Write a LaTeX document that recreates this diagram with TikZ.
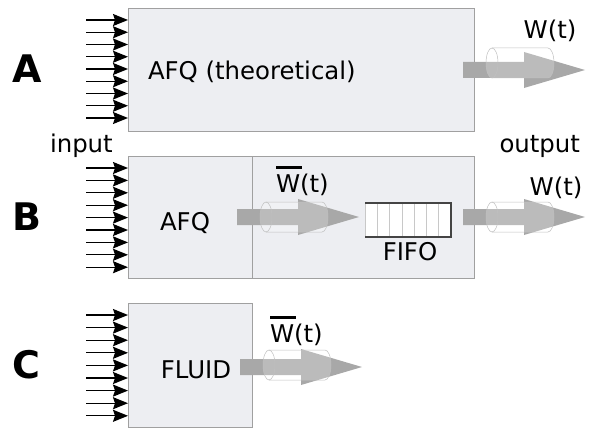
\documentclass[tikz,border=0pt]{standalone}
\usepackage{fontspec}
\setmainfont{DejaVu Sans}
\usetikzlibrary{arrows.meta}
\definecolor{boxfill}{HTML}{EDEEF2}
\definecolor{boxline}{HTML}{A0A0A0}
\definecolor{flow}{HTML}{A8A8A8}
\definecolor{cylline}{HTML}{C0C0C0}
\definecolor{fifoline}{HTML}{444444}
\definecolor{cellline}{HTML}{C8C8C8}
\newcommand\wbarlbl{\rlap{\rule[23pt]{26pt}{3.5pt}}W(t)}
\newcommand\flowarrow[3]{%
  \pgfmathsetmacro\cyy{#2+#3}%
  \fill[flow] (#1,#2-8) -- (#1+61,#2-8) -- (#1+61,#2-18) -- (#1+122,#2)
     -- (#1+61,#2+18) -- (#1+61,#2+8) -- (#1,#2+8) -- cycle;
  \fill[white,opacity=0.22] (#1+29,\cyy-15) -- (#1+85,\cyy-15)
     arc[start angle=90,end angle=-90,x radius=6pt,y radius=15pt]
     -- (#1+29,\cyy+15)
     arc[start angle=-90,end angle=-270,x radius=6pt,y radius=15pt] -- cycle;
  \draw[cylline,line width=0.5pt] (#1+29,\cyy) ellipse[x radius=6pt,y radius=15pt];
  \draw[cylline,line width=0.5pt] (#1+29,\cyy-15) -- (#1+85,\cyy-15)
     arc[start angle=90,end angle=-90,x radius=6pt,y radius=15pt] -- (#1+29,\cyy+15);
}
\tikzset{
  blk/.style={draw=boxline, fill=boxfill, line width=0.8pt, inner sep=0pt, outer sep=0pt, anchor=north west},
  inarrow/.style={-{Stealth[length=15pt,width=12pt,inset=2pt]}, line width=1.3pt},
  txt/.style={font=\fontsize{24.4}{29}\selectfont, inner sep=0pt, outer sep=0pt},
  lbl/.style={font=\fontsize{38}{44}\selectfont\bfseries, inner sep=0pt, outer sep=0pt, anchor=base},
}
\begin{document}
\begin{tikzpicture}[x=1pt,y=-1pt]
\useasboundingbox (0,0) rectangle (589,428);
% boxes
\node[blk, minimum width=346pt, minimum height=123pt] (boxA) at (128,8) {};
\node[blk, minimum width=346pt, minimum height=122pt] (boxB) at (128,156) {};
\node[blk, minimum width=124pt, minimum height=124pt] (boxC) at (128,303) {};
\coordinate (divtop) at (252,156);
\coordinate (divbot) at (252,278);
\draw[boxline, line width=0.8pt] (divtop) -- (divbot);
% inputs
\foreach \i in {0,...,8} {
  \coordinate (inA\i) at (86,20+12.25*\i);
  \draw[inarrow] (inA\i) -- (inA\i -| boxA.west);
  \coordinate (inB\i) at (86,168+12.4*\i);
  \draw[inarrow] (inB\i) -- (inB\i -| boxB.west);
  \coordinate (inC\i) at (86,315+12.6*\i);
  \draw[inarrow] (inC\i) -- (inC\i -| boxC.west);
}
% flow arrows
\flowarrow{463}{70}{-7}
\flowarrow{237}{217}{0}
\flowarrow{463}{217}{0}
\flowarrow{240}{367}{-2}
% FIFO
\node[fill=white, inner sep=0pt, outer sep=0pt, minimum width=86pt, minimum height=34pt, anchor=north west] (fifo) at (365,203) {};
\foreach \k in {1,...,6} {
  \draw[cellline, line width=0.6pt] ([xshift=12.29*\k pt]fifo.north west) -- ([xshift=12.29*\k pt]fifo.south west);
}
\draw[cellline, line width=0.8pt] (fifo.north west) -- (fifo.south west);
\draw[fifoline, line width=1.3pt] (fifo.north west) -- (fifo.north east) -- (fifo.south east) -- (fifo.south west);
% labels
\node[lbl] (labA) at (27,82) {A};
\node[lbl] (labB) at (27,230) {B};
\node[lbl] (labC) at (26,378) {C};
\node[txt, anchor=base west] (tA) at (148,80) {AFQ (theoretical)};
\node[txt, anchor=base] (wA) at (550,39) {W(t)};
\node[txt, anchor=base west] (tin) at (50,152) {input};
\node[txt, anchor=base east] (tout) at (580,152) {output};
\node[txt, anchor=base] (tB) at (185,230) {AFQ};
\node[txt, anchor=base west] (wB1) at (276,192) {\wbarlbl};
\node[txt, anchor=base] (tfifo) at (410,260) {FIFO};
\node[txt, anchor=base] (wB2) at (556,195) {W(t)};
\node[txt, anchor=base] (tC) at (196,378) {FLUID};
\node[txt, anchor=base west] (wC) at (270,342) {\wbarlbl};
\end{tikzpicture}
\end{document}
